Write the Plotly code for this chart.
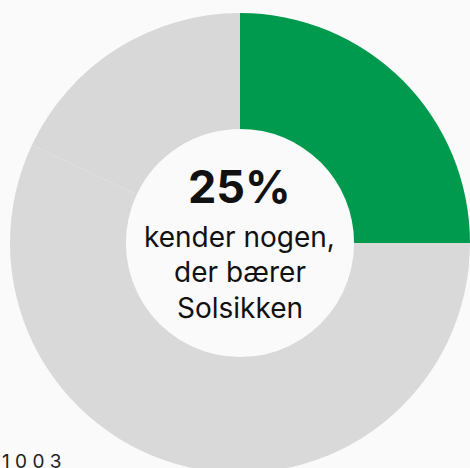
import plotly.graph_objects as go

labels = ["Ja", "Nej", "Ved ikke"]
values = [25, 57, 18]
colors = ["#009a4e", "#d9d9d9", "#d8d8d8"]

big_label = "25%"
sub_lines = ["kender nogen,", "der bærer", "Solsikken"]
note = "1 0 0 3"

W, H = 470, 480

fig = go.Figure(go.Pie(
    labels=labels, values=values, sort=False, direction="clockwise", rotation=0,
    hole=0.496, marker=dict(colors=colors, line=dict(width=0)),
    textinfo="none", hoverinfo="label+percent", showlegend=False,
    domain=dict(x=[10 / W, 1], y=[(H - 473) / H, (H - 13) / H]),
))

fig.add_annotation(text="<b>" + big_label + "</b>", x=240 / W, y=(H - 187) / H,
                   xref="paper", yref="paper", showarrow=False, yanchor="middle",
                   font=dict(family="Inter", size=45, color="#111111"))
for i, (line, cy) in enumerate(zip(sub_lines, [237, 272, 308])):
    fig.add_annotation(text=line, x=240 / W, y=(H - cy) / H, xref="paper", yref="paper",
                       showarrow=False, yanchor="middle",
                       font=dict(family="Inter", size=28, color="#111111"))
fig.add_annotation(text=note, x=0, y=(H - 461) / H, xref="paper", yref="paper",
                   xanchor="left", yanchor="middle", showarrow=False,
                   font=dict(family="Inter", size=19, color="#222222"))

fig.update_layout(width=W, height=H, margin=dict(l=0, r=0, t=0, b=0),
                  paper_bgcolor="#fafafa", plot_bgcolor="#fafafa")

fig.write_html("out.html", config=dict(displayModeBar=False),
               post_script="document.body.style.margin='0';document.body.style.overflow='hidden';")
